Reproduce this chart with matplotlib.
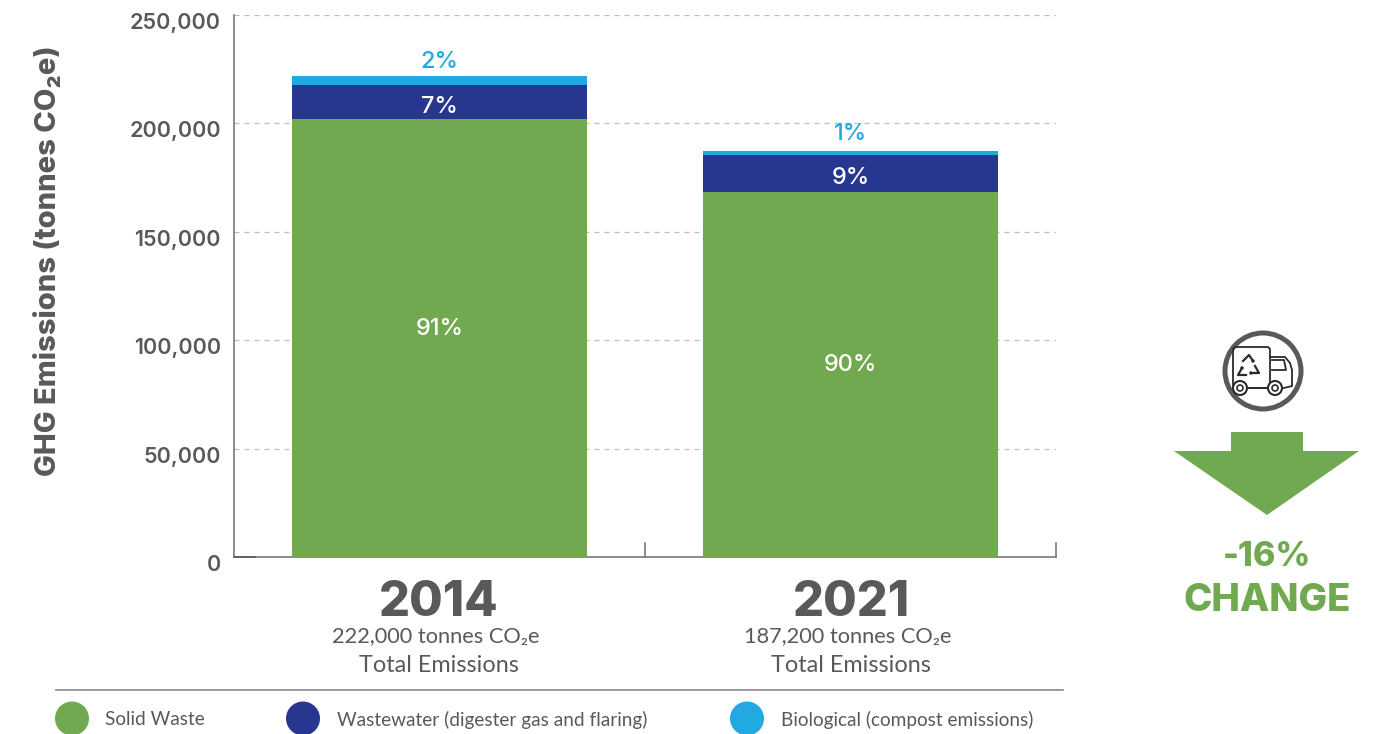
import matplotlib
matplotlib.use('Agg')
import matplotlib.pyplot as plt
from matplotlib.patches import Circle, FancyBboxPatch, Polygon
from matplotlib.transforms import ScaledTranslation

# Emissions by source, tonnes CO2e
years = ['2014', '2021']
solid_waste = [202020, 168480]
wastewater = [15540, 16848]
biological = [4440, 1872]
solid_pct = ['91%', '90%']
wastewater_pct = ['7%', '9%']
biological_pct = ['2%', '1%']
totals = ['222,000 tonnes CO₂e', '187,200 tonnes CO₂e']
y_ticks = [0, 50000, 100000, 150000, 200000, 250000]
legend_labels = ['Solid Waste', 'Wastewater (digester gas and flaring)', 'Biological (compost emissions)']

GREEN = '#70a94f'
NAVY = '#27378f'
SKY = '#22a9e1'
GREY = '#58595b'
W, H = 1376, 734

plt.rcParams['font.family'] = ['Inter', 'DejaVu Sans']
NARROW = ['Lato', 'DejaVu Sans']

fig = plt.figure(figsize=(W / 100, H / 100), dpi=100, facecolor='white')
ax = fig.add_axes([234 / W, 1 - 557 / H, 822 / W, 542 / H])

x = range(len(years))
bottom2 = [a + b for a, b in zip(solid_waste, wastewater)]
ax.bar(x, solid_waste, width=0.72, color=GREEN, zorder=3)
ax.bar(x, wastewater, width=0.72, bottom=solid_waste, color=NAVY, zorder=3)
ax.bar(x, biological, width=0.72, bottom=bottom2, color=SKY, zorder=3)

ax.set_xlim(-0.5, 1.5)
ax.set_ylim(0, 250000)
ax.set_yticks(y_ticks)
ax.set_yticklabels([f'{v:,}' for v in y_ticks], fontsize=15.5, color=GREY, fontweight='semibold')
ax.tick_params(axis='y', length=0, pad=9.5)
# tick labels sit a little below their gridlines
shift = ScaledTranslation(0, -6 / 100, fig.dpi_scale_trans)
for lab in ax.get_yticklabels():
    lab.set_transform(lab.get_transform() + shift)
ax.set_xticks([])
ax.grid(axis='y', color='#bdbdbd', linestyle=(0, (4, 4)), linewidth=0.9, zorder=1)
for s in ['top', 'right']:
    ax.spines[s].set_visible(False)
for s in ['left', 'bottom']:
    ax.spines[s].set_color('#6d6e71')
    ax.spines[s].set_linewidth(1.1)
# short ticks rising from the baseline between and after the groups
for tick_x in [0.5, 1.5]:
    ax.plot([tick_x, tick_x], [0, 6500], color='#6d6e71', lw=1.1, clip_on=False, zorder=2)
ax.plot([-0.5, -0.45], [0, 0], color='#3c3c3c', lw=1.4, clip_on=False, zorder=2)

# share labels
top_gap = [6300, 8000]
for i in x:
    ax.text(i, solid_waste[i] / 2 + 4200, solid_pct[i], color='white', fontsize=17, fontweight='medium',
            ha='center', va='center', zorder=4)
    ax.text(i, solid_waste[i] + wastewater[i] / 2 - 2000, wastewater_pct[i], color='white', fontsize=17,
            fontweight='medium', ha='center', va='center', zorder=4)
    ax.text(i, bottom2[i] + biological[i] + top_gap[i], biological_pct[i], color=SKY, fontsize=17,
            fontweight='medium', ha='center', va='center', zorder=4)

ax.set_ylabel('GHG Emissions (tonnes CO₂e)', fontsize=21, fontweight=800, color=GREY, va='center')
ax.yaxis.set_label_coords((48 - 234) / 822, 0.546)

# overlay in pixel units for the captions, legend and arrow panel
ov = fig.add_axes([0, 0, 1, 1], facecolor='none')
ov.set_xlim(0, W)
ov.set_ylim(H, 0)
ov.axis('off')

for cx, year, total in zip([439, 851], years, totals):
    ov.text(cx, 603, year, fontsize=35, fontweight=800, color=GREY, ha='center', va='center')
    ov.text(cx - 3, 636, total, fontsize=15.7, color=GREY, ha='center', va='center', family=NARROW)
    ov.text(cx, 666, 'Total Emissions', fontsize=16.9, color=GREY, ha='center', va='center', family=NARROW)

ov.plot([56, 1063], [690, 690], color='#8a8a8a', lw=1.2)
for cx, tx, col, label in zip([72, 303, 747], [105, 337, 781], [GREEN, NAVY, SKY], legend_labels):
    ov.add_patch(Circle((cx, 718.5), 17, color=col, lw=0, clip_on=True))
    ov.text(tx, 719.5, label, fontsize=13.65, color=GREY, ha='left', va='center', family=NARROW)

# down arrow and change figure
ov.add_patch(Polygon([(1231, 432), (1303, 432), (1303, 451), (1359, 451), (1267, 515), (1174, 451), (1231, 451)],
                     closed=True, color=GREEN, lw=0))
ov.text(1267, 557, '-16%', fontsize=24.5, fontweight=800, color=GREEN, ha='center', va='center')
ov.text(1267, 601, 'CHANGE', fontsize=27.5, fontweight=800, color=GREEN, ha='center', va='center')

# recycling truck badge
INK = '#2b2b2b'
ov.add_patch(Circle((1263, 371), 38, fill=False, ec=GREY, lw=3.6))
ov.add_patch(FancyBboxPatch((1233, 347), 37, 41, boxstyle='round,pad=0,rounding_size=3', fill=False, ec=INK, lw=1.3))
ov.plot([1270, 1285, 1290, 1292, 1292, 1284], [357, 357, 363, 370, 386, 388], color=INK, lw=1.3)
ov.plot([1272, 1284, 1286, 1272], [360, 360, 370, 370], color=INK, lw=1.3)
ov.plot([1248, 1268], [388, 388], color=INK, lw=1.3)
for wx in [1240, 1275]:
    ov.add_patch(Circle((wx, 388), 7, fc='white', ec=INK, lw=1.5, zorder=5))
    ov.add_patch(Circle((wx, 388), 3, fc='white', ec=INK, lw=1.2, zorder=6))
# three chasing arrows
arrows = [
    ([(1243, 361), (1249, 355), (1253, 361)], (1253, 361)),
    ([(1255, 366), (1259, 373), (1251, 373)], (1251, 373)),
    ([(1246, 375), (1238, 375), (1242, 368)], (1242, 368)),
]
for pts, tip in arrows:
    ov.plot([p[0] for p in pts], [p[1] for p in pts], color=INK, lw=1.6)
    ov.add_patch(Circle(tip, 1.7, color=INK, lw=0))

fig.savefig('out.png', dpi=100)
